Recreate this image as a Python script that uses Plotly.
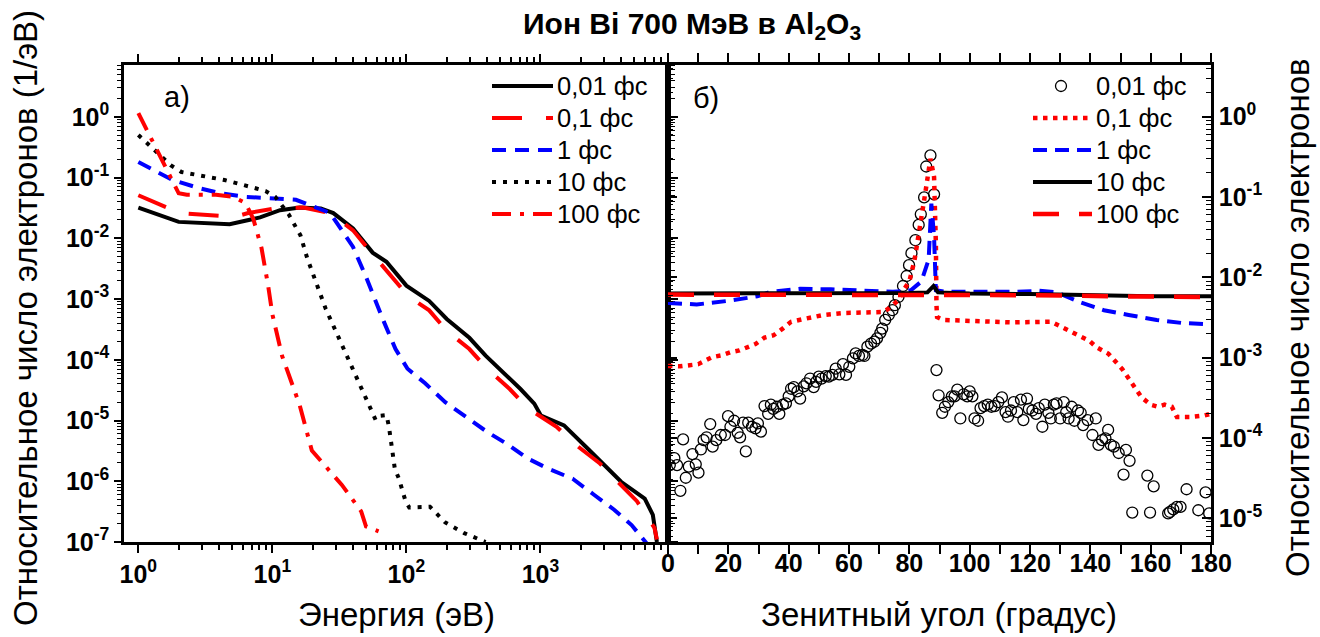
import plotly.graph_objects as go

# ---------------- Panel a): energy spectra ----------------
E_001 = [1, 2, 4.8, 6.8, 8.1, 11.4, 16, 23, 28.5, 40, 56, 71, 100, 148, 200, 295, 390,
         710, 900, 1010, 1500, 2240, 4000, 6000, 6900, 7400]
N_001 = [0.032, 0.0186, 0.017, 0.020, 0.022, 0.029, 0.032, 0.031, 0.026, 0.0145, 5.8e-3,
         4.1e-3, 1.66e-3, 9.3e-4, 4.7e-4, 2.3e-4, 1.17e-4, 3.3e-5, 1.9e-5, 1.2e-5, 8.3e-6,
         3.5e-6, 9.8e-7, 5.2e-7, 2.8e-7, 1.0e-7]

E_01 = [1, 2.04, 5.2, 6.6, 10.5, 17, 27, 40, 53, 76, 103, 148, 200, 295, 400, 590, 810,
        1320, 1780, 2750, 3700, 5250, 7100, 7400]
N_01 = [0.051, 0.026, 0.0224, 0.026, 0.031, 0.032, 0.026, 0.0135, 6.3e-3, 2.4e-3, 1.12e-3,
        6.5e-4, 3.0e-4, 1.5e-4, 7.1e-5, 3.3e-5, 1.58e-5, 7.9e-6, 4.2e-6, 2.0e-6, 1.05e-6,
        4.7e-7, 1.7e-7, 1.1e-7]

E_1 = [1, 1.8, 2.9, 4.1, 6.3, 10.2, 15, 19, 27, 40, 50, 68, 83, 102, 138, 195, 275, 400,
       575, 795, 1150, 1740, 2510, 3550, 4790, 6200]
N_1 = [0.18, 0.091, 0.066, 0.055, 0.048, 0.046, 0.043, 0.035, 0.026, 7.2e-3, 2.3e-3, 4.2e-4,
       1.5e-4, 7.1e-5, 4.1e-5, 2.0e-5, 1.15e-5, 6.5e-6, 4.0e-6, 2.4e-6, 1.6e-6, 1.1e-6,
       6.0e-7, 3.4e-7, 1.9e-7, 0.95e-7]

E_10 = [1, 1.74, 2.1, 4.4, 7.6, 8.9, 10.5, 13.2, 16.2, 18.2, 25, 37, 59, 64, 71, 74, 82, 88,
        98, 105, 150, 195, 270, 390]
N_10 = [0.50, 0.16, 0.123, 0.091, 0.066, 0.060, 0.048, 0.025, 0.0112, 4.7e-3, 6.9e-4, 9.8e-5,
        1.02e-5, 1.2e-5, 1.23e-5, 8.1e-6, 1.6e-6, 1.1e-6, 4.9e-7, 3.7e-7, 3.8e-7, 2.1e-7,
        1.4e-7, 1.0e-7]

E_100 = [1, 2, 2.3, 3.8, 5.1, 6.3, 7.2, 8.3, 9.3, 10, 11.8, 14.5, 16, 19.7, 24.3, 33, 46, 50, 62]
N_100 = [1.15, 0.055, 0.052, 0.052, 0.048, 0.038, 0.021, 6.9e-3, 1.66e-3, 5.6e-4, 1.17e-4,
         3.2e-5, 1.78e-5, 3.2e-6, 1.86e-6, 8.7e-7, 3.2e-7, 1.8e-7, 1.5e-7]

# ---------------- Panel б): zenith angle distributions ----------------
A_001 = [0.6, 2.1, 3.0, 4.1, 5.0, 5.9, 6.9, 8.1, 9.2, 10.1,
         10.9, 11.8, 12.8, 14.0, 14.8, 16.0, 17.5, 18.9, 19.9, 20.7,
         21.9, 23.1, 23.9, 24.9, 25.8, 26.6, 27.8, 29.0, 29.8, 30.8,
         32.0, 33.2, 34.1, 34.9, 36.1, 36.9, 38.1, 39.1, 40.0, 40.8,
         41.7, 42.9, 43.8, 45.0, 45.9, 47.1, 48.3, 49.1, 50.0, 50.9,
         52.3, 53.3, 54.5, 55.6, 56.8, 58.0, 59.0, 60.1, 61.3, 62.2,
         63.3, 64.5, 65.1, 66.1, 67.3, 68.4, 69.3, 70.4, 71.0, 72.0,
         73.2, 74.4, 75.2, 76.4, 77.9, 79.1, 79.9, 80.7, 82.0, 83.1,
         83.8, 84.9, 85.6, 87.0, 88.2,
         89.0, 89.7, 90.9, 91.8, 92.9, 94.1, 95.0, 95.9, 96.9, 98.0,
         99.2, 100.0, 100.9, 101.6, 102.8, 103.6, 104.8, 106.0, 107.2, 108.3,
         109.5, 110.7, 111.9, 112.7, 113.7, 114.6, 115.8, 117.0, 117.8, 119.0,
         119.6, 120.8, 122.0, 122.9, 124.1, 124.9, 126.1, 126.9, 127.9, 128.8,
         130.0, 131.2, 132.0, 132.8, 133.8, 134.7, 135.9, 136.8, 137.6, 139.1,
         140.7, 141.8, 142.7, 143.9, 145.0, 145.9, 146.8, 147.8, 149.4, 151.0,
         151.8, 153.0, 153.9, 158.9, 159.8, 161.0, 165.8, 166.4, 167.5, 168.7,
         169.9, 171.9, 175.8, 178.2, 179.4]
P_001 = [4.6e-5, 5.6e-5, 4.6e-5, 2.2e-5, 9.6e-5, 3.2e-5, 4.4e-5, 6.3e-5, 4.7e-5, 3.7e-5,
         7.2e-5, 9.4e-5, 1.02e-4, 1.49e-4, 7.8e-5, 9.4e-5, 1.09e-4, 1.09e-4, 1.87e-4, 1.38e-4,
         1.64e-4, 1.16e-4, 1.02e-4, 1.55e-4, 6.8e-5, 1.55e-4, 1.38e-4, 1.32e-4, 1.52e-4, 1.2e-4,
         2.5e-4, 2.0e-4, 2.6e-4, 2.3e-4, 2.45e-4, 2.0e-4, 2.6e-4, 2.7e-4, 3.3e-4, 4.1e-4,
         4.3e-4, 3.8e-4, 3.1e-4, 4.4e-4, 4.8e-4, 5.5e-4, 4.3e-4, 5.0e-4, 5.8e-4, 5.5e-4,
         5.9e-4, 5.8e-4, 6.1e-4, 7.3e-4, 6.2e-4, 8.3e-4, 6.1e-4, 7.7e-4, 9.8e-4, 1.13e-3,
         1.05e-3, 1.08e-3, 1.05e-3, 1.37e-3, 1.5e-3, 1.58e-3, 1.74e-3, 2.04e-3, 2.3e-3, 2.95e-3,
         3.4e-3, 3.9e-3, 4.5e-3, 5.7e-3, 7.8e-3, 1.04e-2, 1.42e-2, 2.0e-2, 2.9e-2, 4.5e-2,
         6.1e-2, 9.9e-2, 0.24, 0.33, 0.108,
         7.0e-4, 3.4e-4, 2.06e-4, 2.45e-4, 2.8e-4, 3.3e-4, 3.3e-4, 4.0e-4, 1.75e-4, 3.5e-4,
         3.3e-4, 3.8e-4, 3.3e-4, 1.75e-4, 1.64e-4, 2.35e-4, 2.5e-4, 2.6e-4, 2.45e-4, 2.5e-4,
         2.8e-4, 3.2e-4, 2.1e-4, 1.84e-4, 2.2e-4, 2.8e-4, 2.1e-4, 3.0e-4, 1.67e-4, 3.1e-4,
         2.3e-4, 2.2e-4, 2.0e-4, 2.35e-4, 1.38e-4, 2.6e-4, 2.06e-4, 1.75e-4, 2.6e-4, 2.7e-4,
         1.75e-4, 2.8e-4, 2.1e-4, 1.75e-4, 2.45e-4, 1.64e-4, 2.2e-4, 2.06e-4, 1.45e-4, 1.67e-4,
         1.09e-4, 1.75e-4, 8.2e-5, 9.4e-5, 9.9e-5, 1.26e-4, 8.2e-5, 7.8e-5, 6.5e-5, 3.5e-5,
         7.1e-5, 5.2e-5, 1.18e-5, 3.4e-5, 1.18e-5, 2.5e-5, 1.15e-5, 1.2e-5, 1.29e-5, 1.39e-5,
         1.39e-5, 2.3e-5, 1.26e-5, 2.1e-5, 1.15e-5]

A_01 = [0, 4, 10, 12.4, 14.8, 17.8, 20.7, 23.7, 26.6, 29,
        32, 35, 38, 40.8, 44.4, 48, 51.5, 58, 65, 71,
        72.8, 74.6, 76.4, 78, 80, 81.7, 82.9, 84, 85.2, 86.2,
        87.0, 88.2, 88.6, 88.8, 89.0, 89.2, 91.2, 100.6, 114, 127,
        130, 132.8, 136, 139.7, 142, 146, 150.6, 152.7, 154.9, 157,
        160, 162.4, 164.6, 167, 168.7, 173, 177.6, 180]
P_01 = [7.9e-4, 7.8e-4, 8.3e-4, 9.3e-4, 1.02e-3, 1.07e-3, 1.17e-3, 1.23e-3, 1.38e-3, 1.48e-3,
        1.78e-3, 1.9e-3, 2.3e-3, 2.8e-3, 3.0e-3, 3.2e-3, 3.4e-3, 3.6e-3, 3.7e-3, 3.7e-3,
        4.0e-3, 4.6e-3, 5.2e-3, 6.9e-3, 8.9e-3, 1.62e-2, 2.9e-2, 5.6e-2, 0.107, 0.195,
        0.30, 0.178, 6.9e-2, 2.6e-2, 4.5e-3, 3.2e-3, 2.95e-3, 2.9e-3, 2.75e-3, 2.8e-3,
        2.45e-3, 2.2e-3, 1.86e-3, 1.62e-3, 1.35e-3, 1.12e-3, 7.2e-4, 5.5e-4, 4.2e-4, 3.2e-4,
        2.6e-4, 2.45e-4, 2.6e-4, 2.45e-4, 1.82e-4, 1.82e-4, 1.9e-4, 2.0e-4]

A_1 = [0, 9.5, 20, 29.6, 34, 43.8, 54, 65, 74.6, 80.5, 84, 86.4, 87.3, 88.2, 88.8, 92.3,
       105, 115, 123, 129, 136, 144.5, 152.7, 162, 170.5, 180]
P_1 = [4.8e-3, 4.6e-3, 5.1e-3, 5.8e-3, 6.6e-3, 7.2e-3, 7.1e-3, 6.8e-3, 6.6e-3, 6.9e-3,
       8.9e-3, 1.66e-2, 8.3e-2, 3.2e-2, 6.9e-3, 6.6e-3, 6.5e-3, 6.6e-3, 6.8e-3, 6.5e-3,
       5.0e-3, 3.9e-3, 3.4e-3, 2.95e-3, 2.7e-3, 2.6e-3]

A_10 = [0, 20, 40, 60, 80, 86, 88, 89.5, 100, 120, 140, 160, 180]
P_10 = [6.3e-3, 6.3e-3, 6.4e-3, 6.4e-3, 6.4e-3, 6.5e-3, 7.8e-3, 6.5e-3, 6.3e-3, 6.2e-3,
        6.0e-3, 5.8e-3, 5.8e-3]

A_100 = [0, 30, 60, 90, 120, 150, 180]
P_100 = [6.1e-3, 6.1e-3, 6.1e-3, 6.1e-3, 6.0e-3, 5.8e-3, 5.7e-3]

LEGEND_LABELS = ["0,01 фс", "0,1 фс", "1 фс", "10 фс", "100 фс"]

# ---------------- geometry ----------------
W, H = 1320, 637
ML, MR, MT, MB = 124, 109, 65, 95
PW, PH = W - ML - MR, H - MT - MB
SPLIT = (668 - ML) / PW
FONT = "Liberation Sans, Arial, sans-serif"


def px(xp):
    return (xp - ML) / PW


def py(yp):
    return (H - MB - yp) / PH


def log_ticks(lo, hi):
    vals = [10.0 ** k for k in range(lo, hi + 1)]
    text = ["10<sup>%d</sup>" % k for k in range(lo, hi + 1)]
    return vals, text


def minor_vals(lo, hi):
    return [m * 10.0 ** k for k in range(lo, hi + 1) for m in range(2, 10)]


fig = go.Figure()


def add_line(x, y, color, dash, width, xa, ya):
    fig.add_trace(go.Scatter(x=x, y=y, mode="lines", xaxis=xa, yaxis=ya,
                             line=dict(color=color, dash=dash, width=width),
                             showlegend=False, hoverinfo="skip"))


# panel а)
left_styles = [
    (E_001, N_001, "black", "solid"),
    (E_01, N_01, "#ff0000", "30px,24px"),
    (E_1, N_1, "#0000ff", "14px,9px"),
    (E_10, N_10, "black", "4px,7px"),
    (E_100, N_100, "#ff0000", "19px,9px,4px,9px"),
]
for x, y, c, d in left_styles:
    add_line(x, y, c, d, 4, "x", "y")

# panel б)
fig.add_trace(go.Scatter(x=A_001, y=P_001, mode="markers", xaxis="x2", yaxis="y2",
                         marker=dict(symbol="circle-open", size=11, color="black",
                                     line=dict(width=1.3, color="black")),
                         showlegend=False, hoverinfo="skip"))
right_styles = [
    (A_01, P_01, "#ff0000", "4.5px,5.5px"),
    (A_1, P_1, "#0000ff", "14px,8px"),
    (A_10, P_10, "black", "solid"),
    (A_100, P_100, "#ff0000", "26px,20px"),
]
for x, y, c, d in right_styles:
    add_line(x, y, c, d, 4.5 if c == "#ff0000" else 4, "x2", "y2")

# ---------------- axes ----------------
tick_font = dict(family=FONT, size=25, color="black", weight="bold")
common = dict(showline=True, linecolor="black", linewidth=2.5, mirror="ticks",
              showgrid=False, zeroline=False, tickcolor="black", tickfont=tick_font)

xv, xt = log_ticks(0, 3)
yv, yt = log_ticks(-7, 0)
yv2, yt2 = log_ticks(-5, 0)

fig.update_layout(
    xaxis=dict(type="log", range=[-0.107, 3.952], domain=[0, SPLIT], anchor="y",
               tickmode="array", tickvals=xv, ticktext=xt, ticks="outside",
               ticklen=8, tickwidth=2,
               minor=dict(tickmode="array", tickvals=minor_vals(0, 3), ticks="outside",
                          ticklen=5, tickwidth=1.5, tickcolor="black"),
               **common),
    yaxis=dict(type="log", range=[-7, 0.852], domain=[0, 1], anchor="x",
               tickmode="array", tickvals=yv, ticktext=yt, ticks="outside",
               ticklen=7, tickwidth=2,
               minor=dict(tickmode="array", tickvals=minor_vals(-7, 0), ticks="outside",
                          ticklen=4, tickwidth=1.2, tickcolor="black"),
               **common),
    xaxis2=dict(range=[0, 180], domain=[SPLIT, 1], anchor="y2",
                tickmode="linear", tick0=0, dtick=20, ticks="outside",
                ticklen=9, tickwidth=2, ticklabelstandoff=-12,
                minor=dict(dtick=10, tick0=0, ticks="outside", ticklen=9, tickwidth=2,
                           tickcolor="black"),
                **common),
    yaxis2=dict(type="log", range=[-5.295, 0.644], domain=[0, 1], anchor="x2", side="right",
                tickmode="array", tickvals=yv2, ticktext=yt2, ticks="inside",
                ticklen=9, tickwidth=2,
                minor=dict(tickmode="array", tickvals=minor_vals(-6, 0), ticks="inside",
                           ticklen=5, tickwidth=1.2, tickcolor="black"),
                **common),
)

# ---------------- legends (drawn as keys + text) ----------------
rows = [86, 118, 150, 182, 214]
shapes = []
annotations = []
lg_font = dict(family=FONT, size=25.5, color="black")

for (x, y, c, d), yy, lab in zip(left_styles, rows, LEGEND_LABELS):
    shapes.append(dict(type="line", xref="paper", yref="paper",
                       x0=px(492), x1=px(553), y0=py(yy), y1=py(yy),
                       line=dict(color=c, width=4, dash=d)))
    annotations.append(dict(text=lab, xref="paper", yref="paper", x=px(555), y=py(yy),
                            xanchor="left", yanchor="middle", showarrow=False, font=lg_font))

right_keys = [None] + right_styles
for key, yy, lab in zip(right_keys, rows, LEGEND_LABELS):
    if key is None:
        shapes.append(dict(type="circle", xref="paper", yref="paper",
                           xsizemode="pixel", ysizemode="pixel",
                           xanchor=px(1061), yanchor=py(yy), x0=-5.5, x1=5.5, y0=-5.5, y1=5.5,
                           line=dict(color="black", width=1.3)))
    else:
        _, _, c, d = key
        shapes.append(dict(type="line", xref="paper", yref="paper",
                           x0=px(1033), x1=px(1092), y0=py(yy), y1=py(yy),
                           line=dict(color=c, width=4.5 if c == "#ff0000" else 4, dash=d)))
    annotations.append(dict(text=lab, xref="paper", yref="paper", x=px(1094), y=py(yy),
                            xanchor="left", yanchor="middle", showarrow=False, font=lg_font))

# panel marks
annotations.append(dict(text="а)", xref="paper", yref="paper", x=px(162), y=py(97),
                        xanchor="left", yanchor="middle", showarrow=False,
                        font=dict(family=FONT, size=29, color="black")))
annotations.append(dict(text="б)", xref="paper", yref="paper", x=px(691), y=py(98),
                        xanchor="left", yanchor="middle", showarrow=False,
                        font=dict(family=FONT, size=29, color="black")))

# axis titles
title_font = dict(family=FONT, size=33, color="black")
annotations.append(dict(text="Энергия (эВ)", xref="paper", yref="paper",
                        x=px(396), y=py(614), xanchor="center", yanchor="middle",
                        showarrow=False, font=title_font))
annotations.append(dict(text="Зенитный угол (градус)", xref="paper", yref="paper",
                        x=px(939), y=py(614), xanchor="center", yanchor="middle",
                        showarrow=False, font=title_font))
annotations.append(dict(text="Относительное число электронов (1/эВ)", xref="paper",
                        yref="paper", x=px(25), y=py(318), xanchor="center",
                        yanchor="middle", textangle=-90, showarrow=False, font=title_font))
annotations.append(dict(text="Относительное число электронов", xref="paper",
                        yref="paper", x=px(1297), y=py(318), xanchor="center",
                        yanchor="middle", textangle=-90, showarrow=False, font=title_font))

# chart title
annotations.append(dict(text="<b>Ион Bi 700 МэВ в Al<sub>2</sub>O<sub>3</sub></b>",
                        xref="paper", yref="paper", x=px(692), y=py(25),
                        xanchor="center", yanchor="middle", showarrow=False,
                        font=dict(family=FONT, size=30, color="black")))

fig.update_layout(
    width=W, height=H, autosize=False,
    margin=dict(l=ML, r=MR, t=MT, b=MB, pad=0),
    paper_bgcolor="white", plot_bgcolor="white",
    shapes=shapes, annotations=annotations, showlegend=False,
)

fig.write_html("out.html")
